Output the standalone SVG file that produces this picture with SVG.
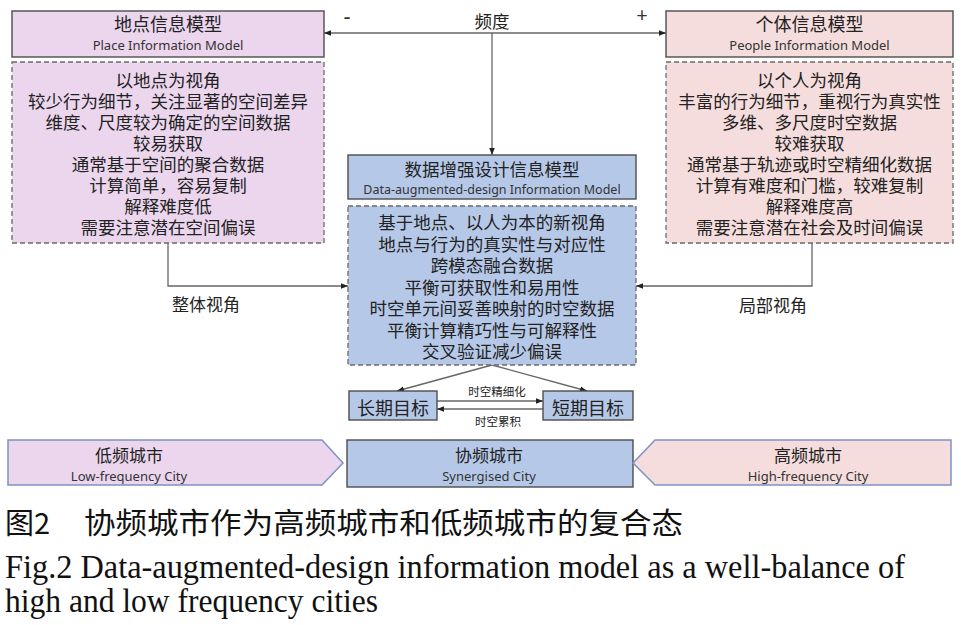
<svg xmlns="http://www.w3.org/2000/svg" width="966" height="625" viewBox="0 0 966 625">
<defs>
<marker id="ah" viewBox="0 0 10 10" refX="10" refY="5" markerWidth="7" markerHeight="7" orient="auto-start-reverse" markerUnits="userSpaceOnUse">
<path d="M0,1 L10,5 L0,9 Z" fill="#222"/>
</marker>
<style>
.zh{font-family:"Noto Sans CJK SC","Noto Sans",sans-serif;fill:#222;text-anchor:middle}
.en{font-family:"Noto Sans","Open Sans","Noto Sans CJK SC",sans-serif;fill:#333;text-anchor:middle}
.t18{font-size:17.5px}
.e13{font-size:13px}
.solid{stroke:#4d4d4d;stroke-width:1.4}
.dash{stroke:#6a6a6a;stroke-width:1.3;stroke-dasharray:5,3}
.pur{fill:#EBD6EE}
.pink{fill:#F5DDDD}
.blue{fill:#B6C8E8}
.conn{fill:none;stroke:#666;stroke-width:1.3}
.pent{stroke:#7E92C2;stroke-width:1.5}
</style>
</defs>
<rect width="966" height="625" fill="#fff"/>

<g id="connectors">
<line class="conn" x1="324" y1="33" x2="666" y2="33" marker-start="url(#ah)" marker-end="url(#ah)"/>
<line class="conn" x1="492" y1="33" x2="492" y2="155" marker-end="url(#ah)"/>
<polyline class="conn" points="168,243 168,286 348,286" marker-end="url(#ah)"/>
<polyline class="conn" points="812,243 812,286 636,286" marker-end="url(#ah)"/>
<line class="conn" x1="492" y1="365" x2="397" y2="391" marker-end="url(#ah)"/>
<line class="conn" x1="492" y1="365" x2="587" y2="391" marker-end="url(#ah)"/>
<line class="conn" x1="437" y1="401" x2="543" y2="401" marker-end="url(#ah)"/>
<line class="conn" x1="543" y1="409" x2="437" y2="409" marker-end="url(#ah)"/>
<text class="zh" x="492" y="28" font-size="17.5">频度</text>
<text class="en" x="347" y="24" font-size="22">-</text>
<text class="en" x="642" y="22" font-size="20">+</text>
<text class="zh" x="206" y="311" font-size="17">整体视角</text>
<text class="zh" x="773" y="312" font-size="17">局部视角</text>
<text class="zh" x="497" y="396" font-size="11.5">时空精细化</text>
<text class="zh" x="498" y="426" font-size="11.5">时空累积</text>
</g>

<g id="place-model">
<rect class="solid pur" x="12" y="11" width="312" height="46"/>
<text class="zh" x="168" y="31" font-size="18">地点信息模型</text>
<text class="en e13" x="168" y="50">Place Information Model</text>
</g>

<g id="place-details">
<rect class="dash pur" x="12" y="62" width="312" height="181"/>
<g class="zh t18">
<text x="168" y="87">以地点为视角</text>
<text x="168" y="108">较少行为细节，关注显著的空间差异</text>
<text x="168" y="129">维度、尺度较为确定的空间数据</text>
<text x="168" y="150">较易获取</text>
<text x="168" y="171">通常基于空间的聚合数据</text>
<text x="168" y="192">计算简单，容易复制</text>
<text x="168" y="213">解释难度低</text>
<text x="168" y="234">需要注意潜在空间偏误</text>
</g>
</g>

<g id="people-model">
<rect class="solid pink" x="666" y="11" width="287" height="46"/>
<text class="zh" x="809.5" y="31" font-size="18">个体信息模型</text>
<text class="en e13" x="809.5" y="50">People Information Model</text>
</g>

<g id="people-details">
<rect class="dash pink" x="666" y="62" width="287" height="181"/>
<g class="zh t18">
<text x="809.5" y="87">以个人为视角</text>
<text x="809.5" y="108">丰富的行为细节，重视行为真实性</text>
<text x="809.5" y="129">多维、多尺度时空数据</text>
<text x="809.5" y="150">较难获取</text>
<text x="809.5" y="171">通常基于轨迹或时空精细化数据</text>
<text x="809.5" y="192">计算有难度和门槛，较难复制</text>
<text x="809.5" y="213">解释难度高</text>
<text x="809.5" y="234">需要注意潜在社会及时间偏误</text>
</g>
</g>

<g id="dad-model">
<rect class="solid blue" x="348" y="155" width="288" height="44"/>
<text class="zh" x="492" y="176" font-size="17.5">数据增强设计信息模型</text>
<text class="en" x="492" y="194" font-size="12.5">Data-augmented-design Information Model</text>
</g>

<g id="dad-details">
<rect class="dash blue" x="348" y="206" width="288" height="159"/>
<g class="zh t18">
<text x="492" y="229">基于地点、以人为本的新视角</text>
<text x="492" y="250.5">地点与行为的真实性与对应性</text>
<text x="492" y="272">跨模态融合数据</text>
<text x="492" y="293.5">平衡可获取性和易用性</text>
<text x="492" y="315">时空单元间妥善映射的时空数据</text>
<text x="492" y="336.5">平衡计算精巧性与可解释性</text>
<text x="492" y="358">交叉验证减少偏误</text>
</g>
</g>

<g id="long-term">
<rect class="solid blue" x="349" y="391" width="88" height="29"/>
<text class="zh" x="393" y="414.5" font-size="18">长期目标</text>
</g>

<g id="short-term">
<rect class="solid blue" x="543" y="391" width="90" height="29"/>
<text class="zh" x="588" y="414.5" font-size="18">短期目标</text>
</g>

<g id="low-freq">
<polygon class="pent pur" points="8,440 322,440 343,463 322,485 8,485"/>
<text class="zh" x="129" y="462" font-size="17">低频城市</text>
<text class="en e13" x="129" y="481">Low-frequency City</text>
</g>

<g id="synergised">
<rect class="solid blue" x="347" y="440" width="286" height="47"/>
<text class="zh" x="489" y="462" font-size="17">协频城市</text>
<text class="en e13" x="489" y="481">Synergised City</text>
</g>

<g id="high-freq">
<polygon class="pent pink" points="951,440 655,440 633,463 655,485 951,485"/>
<text class="zh" x="808" y="462" font-size="17">高频城市</text>
<text class="en e13" x="808" y="481">High-frequency City</text>
</g>

<g id="caption">
<text x="5" y="534" font-family="Noto Sans CJK SC, sans-serif" font-size="29" fill="#111">图2</text>
<text x="84" y="534" font-family="Noto Sans CJK SC, sans-serif" font-size="29" fill="#111" textLength="599" lengthAdjust="spacingAndGlyphs">协频城市作为高频城市和低频城市的复合态</text>
<text x="5" y="578" font-family="Liberation Serif, serif" font-size="34" fill="#111" textLength="900" lengthAdjust="spacingAndGlyphs">Fig.2  Data-augmented-design information model as a well-balance of</text>
<text x="5" y="612" font-family="Liberation Serif, serif" font-size="34" fill="#111" textLength="373" lengthAdjust="spacingAndGlyphs">high and low frequency cities</text>
</g>
</svg>
